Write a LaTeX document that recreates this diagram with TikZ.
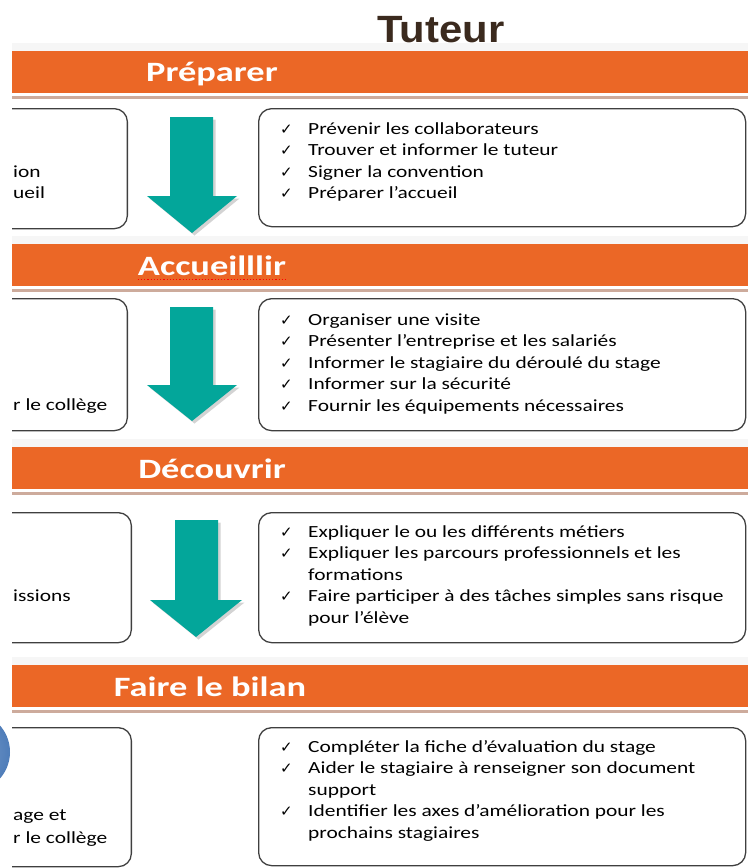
\documentclass[tikz,border=0pt]{standalone}
\usepackage{fontspec}
\usepackage{tikz}
\newfontfamily\itemfont{Carlito}[FakeStretch=1.26]
\newfontfamily\barfont{Carlito}[FakeStretch=1.3]
\newfontfamily\titlefont{Liberation Sans}[FakeStretch=1.1]
\newfontfamily\chkfont{DejaVu Sans}
\usetikzlibrary{shadows}
\definecolor{barorange}{HTML}{EB6726}
\definecolor{arrowteal}{HTML}{03A69A}
\definecolor{titlebrown}{HTML}{3B2A1E}
\definecolor{barline}{HTML}{CDAB9C}
\definecolor{boxgray}{HTML}{3F3F3F}
\definecolor{circblue}{HTML}{4F7DB9}
\tikzset{phasebar/.style = {fill=barorange, draw=none, inner sep=0, anchor=north west,
    minimum width=736pt, minimum height=42pt}}
\tikzset{phaselabel/.style = {text=white, inner sep=0, font=\barfont\bfseries\fontsize{28}{32}\selectfont}}
\tikzset{stepbox/.style = {draw=boxgray, line width=1.3pt, rounded corners=13pt, inner sep=0}}
\tikzset{itemlist/.style = {anchor=north west, inner sep=0, align=left,
    font=\itemfont\fontsize{17}{21.5}\selectfont}}
\tikzset{fragment/.style = {anchor=west, inner sep=0, font=\itemfont\fontsize{17}{21.5}\selectfont}}
\tikzset{downarrow/.style = {fill=arrowteal, drop shadow={shadow xshift=2.5pt, shadow yshift=-2.5pt, opacity=0.35}}}
\newcommand{\itm}{\strut\makebox[28pt][l]{\chkfont\fontsize{15}{21.5}\selectfont ✓}}
\newcommand{\cont}{\strut\hspace*{28pt}}

\begin{document}
\begin{tikzpicture}[x=1pt, y=-1pt]
  \useasboundingbox (0,0) rectangle (748,868);
  \clip (0,0) rectangle (748,868);

  % disc peeking in at the left edge
  \shade [inner color=circblue!75, outer color=circblue] (-30,752) circle [radius=40];

  \node [text=titlebrown, font=\titlefont\bfseries\fontsize{38}{40}\selectfont] (title) at (441,30) {Tuteur};

  \begin{scope}
    \clip (12,0) rectangle (748,868);

    \foreach \y in {51,244,447,665} {
      \fill [gray!7] (12,\y-8) rectangle (748,\y);
      \fill [barline] (12,\y+45) rectangle (748,\y+48);
    }

    \node [phasebar] (bar1) at (12,51) {};
    \node [phasebar] (bar2) at (12,244) {};
    \node [phasebar] (bar3) at (12,447) {};
    \node [phasebar] (bar4) at (12,665) {};

    \node [phaselabel] (prep) at (212,74) {Préparer};
    \node [phaselabel] (acc) at (212,266) {Accueilllir};
    \draw [red, dotted, line width=1.2pt] ([yshift=-4pt]acc.base west) -- ([yshift=-4pt]acc.base east);
    \node [phaselabel] (dec) at (212,469) {Découvrir};
    \node [phaselabel] (bilan) at (210,687) {Faire le bilan};

    % left boxes, cut off by the edge
    \node [stepbox, anchor=north east, minimum width=170pt, minimum height=120pt] (left1) at (128,108) {};
    \node [stepbox, anchor=north east, minimum width=170pt, minimum height=132pt] (left2) at (128,298) {};
    \node [stepbox, anchor=north east, minimum width=170pt, minimum height=130pt] (left3) at (132,512) {};
    \node [stepbox, anchor=north east, minimum width=170pt, minimum height=139pt] (left4) at (132,727) {};

    \node [fragment] (l1a) at (13,172) {ion};
    \node [fragment] (l1b) at (13,193) {ueil};
    \node [fragment] (l2a) at (13,406) {r le collège};
    \node [fragment] (l3a) at (13,596) {issions};
    \node [fragment] (l4a) at (13,817) {age et};
    \node [fragment] (l4b) at (13,839) {r le collège};

    % right boxes
    \node [stepbox, anchor=north west, minimum width=487pt, minimum height=118pt] (right1) at (258,108) {};
    \node [stepbox, anchor=north west, minimum width=487pt, minimum height=132pt] (right2) at (258,298) {};
    \node [stepbox, anchor=north west, minimum width=487pt, minimum height=130pt] (right3) at (258,512) {};
    \node [stepbox, anchor=north west, minimum width=487pt, minimum height=138pt] (right4) at (258,727) {};

    \node [itemlist] (list1) at ([xshift=22pt, yshift=-11pt]right1.north west)
      {\itm Prévenir les collaborateurs\\
       \itm Trouver et informer le tuteur\\
       \itm Signer la convention\\
       \itm Préparer l’accueil};
    \node [itemlist] (list2) at ([xshift=22pt, yshift=-12pt]right2.north west)
      {\itm Organiser une visite\\
       \itm Présenter l’entreprise et les salariés\\
       \itm Informer le stagiaire du déroulé du stage\\
       \itm Informer sur la sécurité\\
       \itm Fournir les équipements nécessaires};
    \node [itemlist] (list3) at ([xshift=22pt, yshift=-10pt]right3.north west)
      {\itm Expliquer le ou les différents métiers\\
       \itm Expliquer les parcours professionnels et les\\
       \cont formations\\
       \itm Faire participer à des tâches simples sans risque\\
       \cont pour l’élève};
    \node [itemlist] (list4) at ([xshift=22pt, yshift=-10pt]right4.north west)
      {\itm Compléter la fiche d’évaluation du stage\\
       \itm Aider le stagiaire à renseigner son document\\
       \cont support\\
       \itm Identifier les axes d’amélioration pour les\\
       \cont prochains stagiaires};

    % arrows between the phases
    \fill [downarrow] (170,117) -- (213,117) -- (213,196) -- (237,196) -- (192,233)
      -- (147,196) -- (170,196) -- cycle;
    \fill [downarrow] (170,307) -- (213,307) -- (213,385) -- (237,385) -- (192,421)
      -- (147,385) -- (170,385) -- cycle;
    \fill [downarrow] (175,520) -- (218,520) -- (218,600) -- (242,600) -- (196,637)
      -- (150,600) -- (175,600) -- cycle;
  \end{scope}
\end{tikzpicture}
\end{document}
